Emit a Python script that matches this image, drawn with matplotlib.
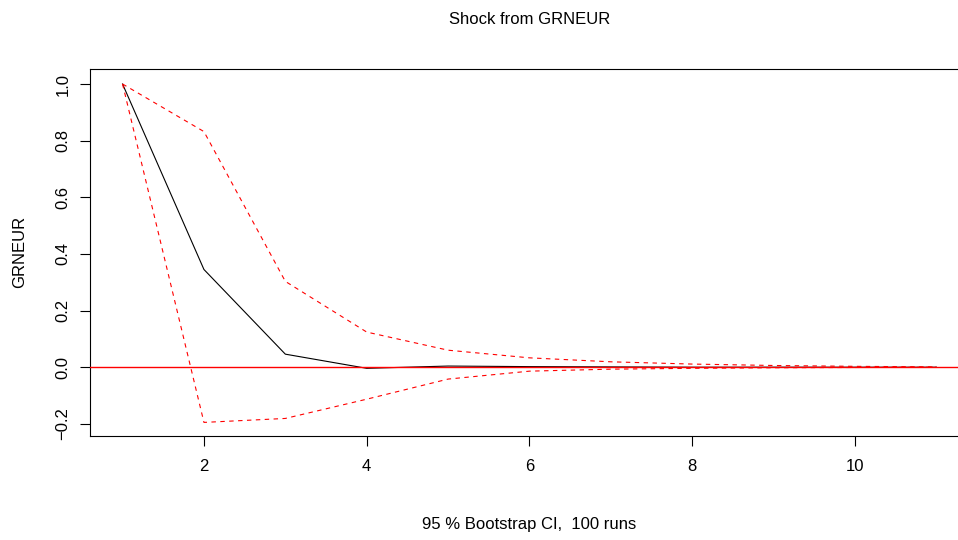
import numpy as np
import matplotlib
matplotlib.use("Agg")
import matplotlib.pyplot as plt

plt.rcParams['font.family'] = ['Liberation Sans', 'DejaVu Sans']

# impulse response of GRNEUR to its own shock, with bootstrap band
horizon = [1, 2, 3, 4, 5, 6, 7, 8, 9, 10, 11]
irf = [1.0, 0.345, 0.046, -0.004, 0.004, 0.002, 0.001, 0.0, 0.0, 0.0, 0.0]
upper = [1.0, 0.832, 0.303, 0.124, 0.060, 0.033, 0.019, 0.011, 0.006, 0.003, 0.001]
lower = [1.0, -0.195, -0.181, -0.113, -0.042, -0.014, -0.007, -0.004, -0.002, -0.001, 0.0]

W, H = 958, 540
fig = plt.figure(figsize=(W / 100, H / 100), dpi=100)
# plot region runs past the right edge of the device
left, right, top, bottom = 90, 969, 69, 436
ax = fig.add_axes([left / W, 1 - bottom / H, (right - left) / W, (bottom - top) / H])

ax.plot(horizon, irf, color='black', lw=0.8)
ax.plot(horizon, upper, color='red', lw=0.8, linestyle=(0, (4, 4)))
ax.plot(horizon, lower, color='red', lw=0.8, linestyle=(0, (4, 4)))
ax.axhline(0, color='red', lw=1.0, zorder=5)

ax.set_xlim(0.6, 11.4)
ax.set_ylim(-0.243, 1.053)
ax.set_xticks([2, 4, 6, 8, 10])
ax.set_yticks([-0.2, 0.0, 0.2, 0.4, 0.6, 0.8, 1.0])
ax.set_yticklabels(['\u22120.2', '0.0', '0.2', '0.4', '0.6', '0.8', '1.0'],
                   rotation=90, va='center')
ax.tick_params(axis='both', direction='out', length=7.5, width=0.8, labelsize=12)
ax.tick_params(axis='x', pad=9)
ax.tick_params(axis='y', pad=6.5)
for s in ax.spines.values():
    s.set_linewidth(0.8)

fig.text(529.5 / W, 1 - 20 / H, 'Shock from GRNEUR', ha='center', va='center', fontsize=12)
fig.text(529.5 / W, 1 - 525 / H, '95 % Bootstrap CI,  100 runs', ha='center', va='center', fontsize=12)
fig.text(20 / W, 1 - 252 / H, 'GRNEUR', ha='center', va='center', rotation=90, fontsize=12)

fig.savefig('out.png', dpi=100)
